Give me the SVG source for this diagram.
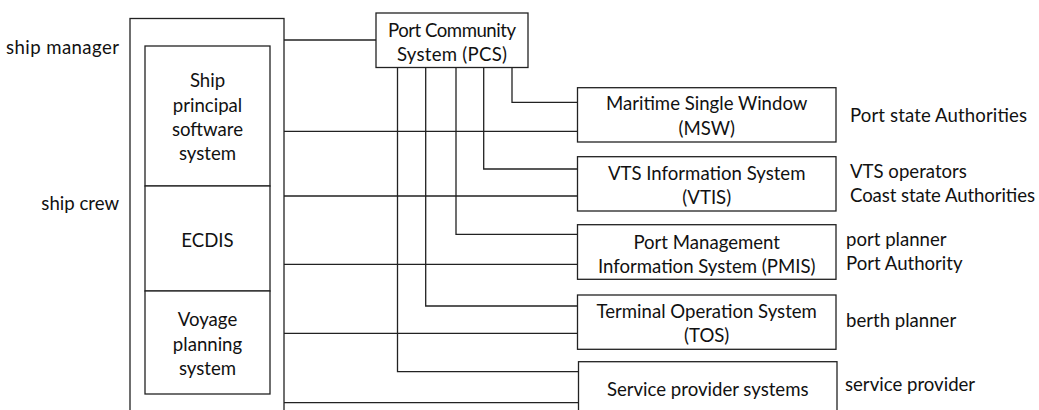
<svg xmlns="http://www.w3.org/2000/svg" width="1039" height="410" viewBox="0 0 1039 410">
<style>
.box{fill:#fff;stroke:#222;stroke-width:1.3}
.ln{fill:none;stroke:#222;stroke-width:1.3}
text{font-family:Lato,"Open Sans",sans-serif;font-size:18.6px;fill:#111;dominant-baseline:central}
.c{text-anchor:middle}
.e{text-anchor:end}
</style>
<rect width="1039" height="410" fill="#fff"/>
<g id="ship">
<rect class="box" x="130" y="18.5" width="154" height="420"/>
</g>
<g id="ship-principal">
<rect class="box" x="145" y="46" width="125" height="140"/>
<text class="c" x="207.5" y="80">Ship</text>
<text class="c" x="207.5" y="105">principal</text>
<text class="c" x="207.5" y="129">software</text>
<text class="c" x="207.5" y="153">system</text>
</g>
<g id="ecdis">
<rect class="box" x="145" y="186" width="125" height="105"/>
<text class="c" x="207.5" y="240">ECDIS</text>
</g>
<g id="voyage">
<rect class="box" x="145" y="291" width="125" height="103"/>
<text class="c" x="207.5" y="319">Voyage</text>
<text class="c" x="207.5" y="344">planning</text>
<text class="c" x="207.5" y="368">system</text>
</g>
<g id="roles-left">
<text class="e" x="119" y="47" textLength="113">ship manager</text>
<text class="e" x="119" y="203">ship crew</text>
</g>
<g id="connectors">
<path class="ln" d="M284 40H376"/>
<path class="ln" d="M284 131.3H577.5M284 196H577.5M284 264.3H577.5M284 333.3H577.5M284 402.7H578.5"/>
<path class="ln" d="M512 67.5V102.3H577.5"/>
<path class="ln" d="M483.7 67.5V169H577.5"/>
<path class="ln" d="M456 67.5V234.3H577.5"/>
<path class="ln" d="M425.7 67.5V306H577.5"/>
<path class="ln" d="M397.5 67.5V371.7H578.5"/>
</g>
<g id="pcs">
<rect class="box" x="376" y="13" width="152" height="54.5"/>
<text class="c" x="452" y="29.5" textLength="128">Port Community</text>
<text class="c" x="452" y="53.5" textLength="110">System (PCS)</text>
</g>
<g id="msw">
<rect class="box" x="577.5" y="87.7" width="258.5" height="54.3"/>
<text class="c" x="706.7" y="103.3">Maritime Single Window</text>
<text class="c" x="706.7" y="128.3">(MSW)</text>
</g>
<g id="vtis">
<rect class="box" x="577.5" y="156.7" width="258.5" height="54.3"/>
<text class="c" x="706.7" y="173.3">VTS Information System</text>
<text class="c" x="706.7" y="197.3">(VTIS)</text>
</g>
<g id="pmis">
<rect class="box" x="577.5" y="224.7" width="258.5" height="54.6"/>
<text class="c" x="706.7" y="241.7">Port Management</text>
<text class="c" x="706.7" y="265.7">Information System (PMIS)</text>
</g>
<g id="tos">
<rect class="box" x="577.5" y="295" width="258.5" height="54.3"/>
<text class="c" x="706.7" y="310.7">Terminal Operation System</text>
<text class="c" x="706.7" y="335">(TOS)</text>
</g>
<g id="service">
<rect class="box" x="578.5" y="361.7" width="258.5" height="70"/>
<text class="c" x="707.7" y="389.3">Service provider systems</text>
</g>
<g id="roles-right">
<text x="850" y="115" textLength="177">Port state Authorities</text>
<text x="850" y="171">VTS operators</text>
<text x="850" y="195" textLength="185">Coast state Authorities</text>
<text x="846" y="239">port planner</text>
<text x="846" y="263">Port Authority</text>
<text x="846" y="320">berth planner</text>
<text x="845" y="384">service provider</text>
</g>
</svg>
